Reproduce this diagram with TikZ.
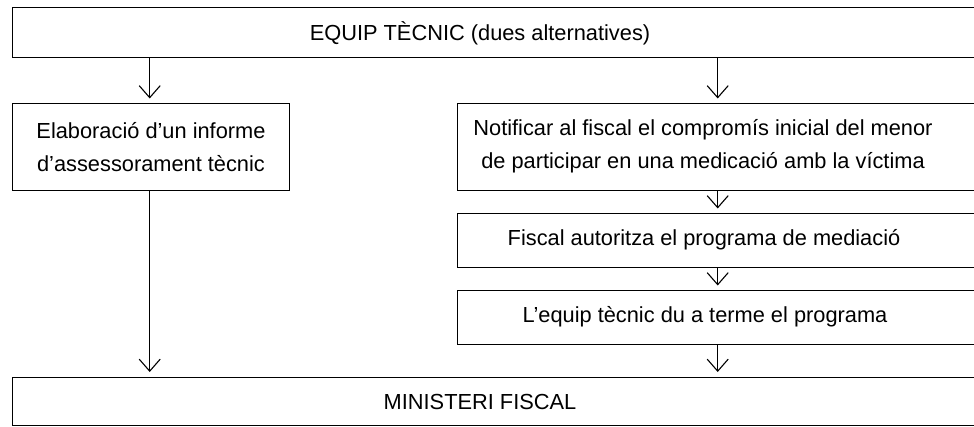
\documentclass[tikz,border=0pt]{standalone}
\usepackage{fontspec}
\setmainfont{Liberation Sans}
\usepackage{tikz}
\usetikzlibrary{positioning}
\usetikzlibrary{arrows.meta}
\usetikzlibrary{calc}
\tikzset{main box/.style={draw,line width=1pt,rectangle,anchor=north west,inner sep=0pt},
         box text/.style={align=center,inner sep=0pt,font=\fontsize{21.8}{33}\selectfont},
         flow/.style={line width=1.1pt,-{Straight Barb[length=12pt,width=21pt,line width=1.1pt]},shorten >=4.5pt}}

\begin{document}
\begin{tikzpicture}[x=1pt,y=-1pt]
    \useasboundingbox (0,0) rectangle (974,427);
    \clip (0,0) rectangle (974,427);
    \node[main box,minimum width=980pt,minimum height=50pt] (equip) at (12,7.5) {};
    \node[main box,minimum width=277pt,minimum height=87pt] (informe) at (12,103) {};
    \node[main box,minimum width=533pt,minimum height=87pt] (notif) at (457,103) {};
    \node[main box,minimum width=533pt,minimum height=54pt] (autoritza) at (457,213) {};
    \node[main box,minimum width=533pt,minimum height=54pt] (programa) at (457,290) {};
    \node[main box,minimum width=980pt,minimum height=48.5pt] (ministeri) at (12,376.5) {};

    \node[box text] (equip txt) at (480,33) {EQUIP TÈCNIC (dues alternatives)};
    \node[box text] (informe txt) at (informe.center) {Elaboració d’un informe\\d’assessorament tècnic};
    \node[box text] (notif txt) at (703,146.5) {Notificar al fiscal el compromís inicial del menor\\de participar en una medicació amb la víctima};
    \node[box text] (autoritza txt) at (704,240) {Fiscal autoritza el programa de mediació};
    \node[box text] (programa txt) at (705,317) {L’equip tècnic du a terme el programa};
    \node[box text] (ministeri txt) at (480,401.5) {MINISTERI FISCAL};

    \coordinate (lx) at (149.7,0);
    \coordinate (rx) at (717.7,0);
    \draw[flow] (equip.south -| lx) -- (informe.north -| lx);
    \draw[flow] (equip.south -| rx) -- (notif.north -| rx);
    \draw[flow] (informe.south -| lx) -- (ministeri.north -| lx);
    \draw[flow] (notif.south -| rx) -- (autoritza.north -| rx);
    \draw[flow] (autoritza.south -| rx) -- (programa.north -| rx);
    \draw[flow] (programa.south -| rx) -- (ministeri.north -| rx);
\end{tikzpicture}
\end{document}
